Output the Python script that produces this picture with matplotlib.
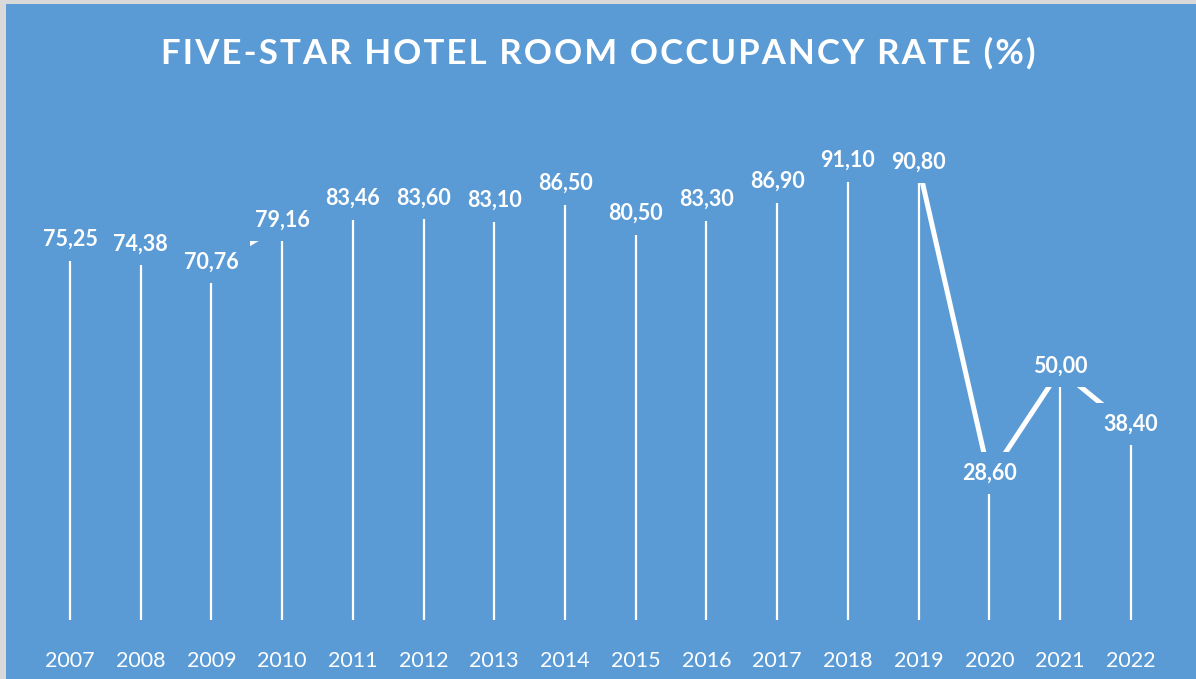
import matplotlib.pyplot as plt
from matplotlib.patches import Rectangle

years = ['2007', '2008', '2009', '2010', '2011', '2012', '2013', '2014',
         '2015', '2016', '2017', '2018', '2019', '2020', '2021', '2022']
occupancy = [75.25, 74.38, 70.76, 79.16, 83.46, 83.60, 83.10, 86.50,
             80.50, 83.30, 86.90, 91.10, 90.80, 28.60, 50.00, 38.40]

blue = '#5B9BD5'
W, H = 1196, 679

fig = plt.figure(figsize=(W / 100, H / 100), dpi=100)
fig.set_facecolor('#D9D9D9')
fig.patches.append(Rectangle((6 / W, 0), 1, 1 - 4 / H, transform=fig.transFigure,
                             facecolor=blue, edgecolor='none', zorder=-5))

ax = fig.add_axes([34.6 / W, 59 / H, 1131.6 / W, 520 / H])
ax.set_facecolor('none')
x = list(range(len(years)))

ax.vlines(x, 0, occupancy, color='white', lw=1.6, zorder=2)
ax.plot(x, occupancy, color='white', lw=3.6, solid_capstyle='butt', zorder=3)

for xi, v in zip(x, occupancy):
    ax.annotate(f'{v:.2f}'.replace('.', ','), (xi, v), xytext=(0, 3),
                textcoords='offset points', ha='center', va='center',
                color='white', fontsize=15.5, fontweight='bold', family='Lato',
                bbox=dict(boxstyle='square,pad=0.5', facecolor=blue, edgecolor='none'),
                zorder=4)

ax.set_xlim(-0.5, len(years) - 0.5)
ax.set_ylim(0, 104)
ax.set_xticks(x)
ax.set_xticklabels(years, color='white', fontsize=15.5, family='Lato')
ax.tick_params(axis='x', length=0, pad=22)
ax.set_yticks([])
for s in ax.spines.values():
    s.set_visible(False)

# spaced-out title, like the original
title = 'FIVE-STAR HOTEL ROOM OCCUPANCY RATE (%)'
fig.text(0.5, 1 - 53 / H, '\u200a'.join(title), ha='center',
         va='center', color='white', fontsize=25, fontweight='bold',
         family=['Lato', 'DejaVu Sans'])

fig.savefig('out.png', dpi=100, facecolor=fig.get_facecolor())
